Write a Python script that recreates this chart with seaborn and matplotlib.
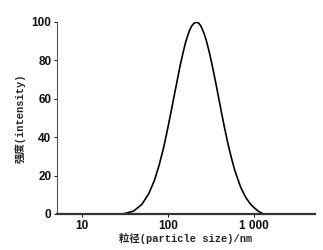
import pandas as pd
import seaborn as sns
import matplotlib.pyplot as plt
from matplotlib.ticker import NullLocator

# values
size_nm = [30, 40, 50, 60, 70, 80, 90, 100, 110, 120, 130, 140, 150, 160, 170, 180, 190, 200, 210,
           220, 230, 240, 250, 265, 280, 300, 320, 340, 360, 380, 400, 450, 500, 550, 600, 700, 800,
           900, 1000, 1100, 1200, 1300]
intensity = [0.0, 1.5, 5.0, 10.5, 17.5, 26.0, 35.0, 44.7, 54.0, 62.7, 70.5, 77.8, 83.8, 88.9, 92.8,
             95.9, 98.0, 99.2, 99.7, 99.8, 99.3, 98.2, 96.6, 93.8, 90.4, 85.2, 79.7, 74.0, 68.5,
             63.1, 57.9, 46.2, 36.5, 29.0, 22.7, 14.1, 8.8, 5.5, 3.4, 1.8, 0.7, 0.0]
xticks = [10, 100, 1000]
xticklabels = ["10", "100", "1 000"]
yticks = [0, 20, 40, 60, 80, 100]

df = pd.DataFrame({"size": size_nm, "intensity": intensity})

sns.set_style("ticks")
plt.rcParams['font.family'] = ['Liberation Mono', 'Noto Sans CJK SC', 'DejaVu Sans']

fig = plt.figure(figsize=(3.23, 2.5), dpi=100)
ax = fig.add_axes([0.176, 0.144, 0.8, 0.768])

sns.lineplot(data=df, x="size", y="intensity", color="black", linewidth=1.2, ax=ax)

ax.set_xscale("log")
ax.set_xlim(5.15, 5160)
ax.set_ylim(0, 100)
ax.set_xticks(xticks)
ax.set_xticklabels(xticklabels)
ax.xaxis.set_minor_locator(NullLocator())
ax.set_yticks(yticks)

for s in ["top", "right"]:
    ax.spines[s].set_visible(False)
ax.spines["bottom"].set_linewidth(1.6)
ax.spines["bottom"].set_color("#333333")
ax.spines["left"].set_linewidth(0.8)
ax.spines["left"].set_color("#555555")
ax.tick_params(axis="both", length=2, width=0.7, pad=2, labelsize=8.5, colors="#111111")
for lab in ax.get_xticklabels() + ax.get_yticklabels():
    lab.set_fontweight("bold")
    lab.set_family(["Liberation Sans", "DejaVu Sans"])

ax.set_xlabel("粒径(particle size)/nm", fontsize=7.5, fontweight="bold", labelpad=1)
ax.set_ylabel("强度(intensity)", fontsize=7.5, fontweight="bold", labelpad=4)

fig.savefig("out.png", dpi=100)
